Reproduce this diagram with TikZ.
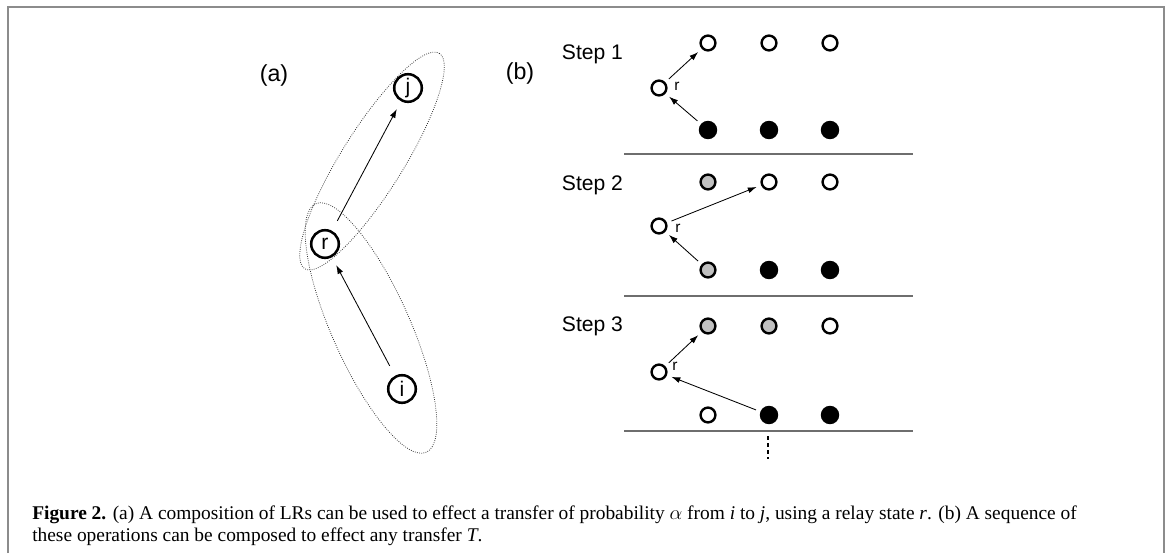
\documentclass[tikz,border=0pt]{standalone}
\usepackage{fontspec}
\setmainfont{Liberation Serif}
\setsansfont{Liberation Sans}
\usetikzlibrary{arrows.meta,positioning}
\definecolor{framegray}{HTML}{8C8C8C}
\definecolor{partgray}{HTML}{C0C0C0}
\definecolor{rulegray}{HTML}{6E6E6E}

\begin{document}
\begin{tikzpicture}[x=0.025cm,y=-0.025cm,
    every node/.style={font=\sffamily},
    state/.style={draw,circle,line width=1.8pt,minimum size=0.69cm,inner sep=0pt,font=\sffamily\fontsize{15}{15}\selectfont},
    site/.style={draw,circle,line width=1.7pt,minimum size=0.37cm,inner sep=0pt},
    empty/.style={site,fill=white},
    full/.style={site,fill=black,minimum size=0.4cm},
    part/.style={site,fill=partgray},
    panel/.style={font=\sffamily\fontsize{16.5}{16.5}\selectfont},
    steplabel/.style={anchor=west,font=\sffamily\fontsize{15}{15}\selectfont},
    tag/.style={font=\sffamily\fontsize{11}{11}\selectfont,inner sep=0pt},
    group/.style={densely dotted,black!80,line width=0.55pt},
    arr/.style={-{Latex[length=2.2mm,width=1.5mm]},line width=0.6pt,shorten <=0.28cm,shorten >=0.22cm},
    hop/.style={-{Latex[length=2.2mm,width=1.5mm]},line width=0.6pt,shorten <=0.12cm,shorten >=0.12cm},
    sep/.style={rulegray,line width=1pt}
]
\useasboundingbox (0,0) rectangle (1168,553);
\draw[framegray,line width=1.4pt] (8,553) -- (8,7) -- (1164,7) -- (1164,553);

% (a) relay through r
\node[panel] (pa) at (274,75) {(a)};
\node[state] (j) at (408,88) {j};
\node[state] (r) at (325,244) {r};
\node[state] (i) at (402,389) {i};
\draw[group,rotate around={58:(372,161)}] (372,161) ellipse (127 and 31);
\draw[group,rotate around={-66:(371,328)}] (371,328) ellipse (136 and 39);
\draw[arr] (r) -- (j);
\draw[arr] (i) -- (r);

% (b) sequence of steps
\node[panel] (pb) at (520,73) {(b)};

\node[steplabel] (st1) at (557,54) {Step 1};
\node[empty] (s1t1) at (708,43) {};
\node[empty] (s1t2) at (769,43) {};
\node[empty] (s1t3) at (830,43) {};
\node[empty] (s1r) at (659,88) {};
\node[tag] (s1rl) at (677,86) {r};
\node[full] (s1b1) at (708,130) {};
\node[full] (s1b2) at (769,130) {};
\node[full] (s1b3) at (830,130) {};
\draw[hop] (s1b1) -- (s1r);
\draw[hop] (s1r) -- (s1t1);
\draw[sep] (624,154) -- (913,154);

\node[steplabel] (st2) at (557,185) {Step 2};
\node[part] (s2t1) at (708,182) {};
\node[empty] (s2t2) at (769,182) {};
\node[empty] (s2t3) at (830,182) {};
\node[empty] (s2r) at (659,226) {};
\node[tag] (s2rl) at (678,228) {r};
\node[part] (s2b1) at (708,270) {};
\node[full] (s2b2) at (769,270) {};
\node[full] (s2b3) at (830,270) {};
\draw[hop] (s2b1) -- (s2r);
\draw[hop] (s2r) -- (s2t2);
\draw[sep] (624,296) -- (913,296);

\node[steplabel] (st3) at (557,326) {Step 3};
\node[part] (s3t1) at (708,326) {};
\node[part] (s3t2) at (769,326) {};
\node[empty] (s3t3) at (830,326) {};
\node[empty] (s3r) at (659,372) {};
\node[tag] (s3rl) at (675,366) {r};
\node[empty] (s3b1) at (708,415) {};
\node[full] (s3b2) at (769,415) {};
\node[full] (s3b3) at (830,415) {};
\draw[hop] (s3b2) -- (s3r);
\draw[hop] (s3r) -- (s3t1);
\draw[sep] (624,431) -- (913,431);
\draw[densely dashed,line width=1pt] (768,436) -- (768,459);

% caption
\node[anchor=north west,align=left,inner sep=0pt,font=\rmfamily\fontsize{13.8}{15}\selectfont] (cap) at (32,506)
  {\textbf{Figure 2.} (a) A composition of LRs can be used to effect a transfer of probability $\alpha$ from \textit{i} to \textit{j}, using a relay state \textit{r}. (b) A sequence of\\
   these operations can be composed to effect any transfer \textit{T}.};
\end{tikzpicture}
\end{document}
